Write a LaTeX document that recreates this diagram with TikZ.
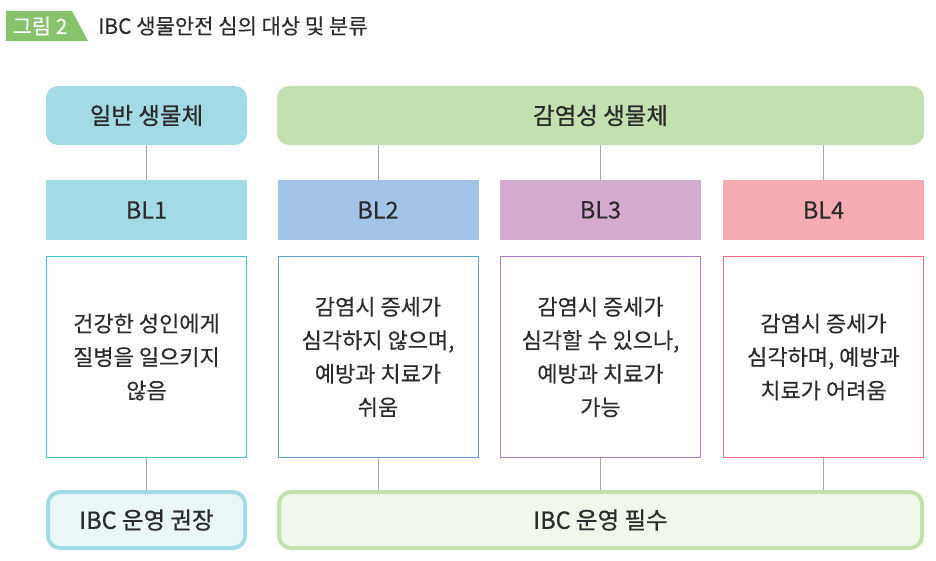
\documentclass[tikz,border=0pt]{standalone}
\usepackage{fontspec}
\usepackage{xcolor}
\setmainfont{Noto Sans CJK KR}
\newfontfamily\headfont[FakeBold=0.7]{Noto Sans CJK KR}
\newfontfamily\bodyfont[FakeBold=0.25]{Noto Sans CJK KR}

\definecolor{tagC}{HTML}{85C46A}
\definecolor{inkC}{HTML}{2B2B2B}
\definecolor{linkC}{HTML}{A8A8A8}
\definecolor{generalC}{HTML}{A3DBE5}
\definecolor{infectC}{HTML}{C5E0B0}
\definecolor{bltwoC}{HTML}{A2C4E8}
\definecolor{blthreeC}{HTML}{D4ABCF}
\definecolor{blfourC}{HTML}{F6AAB2}
\definecolor{edgeoneC}{HTML}{3EC3D5}
\definecolor{edgetwoC}{HTML}{5D9EDD}
\definecolor{edgethreeC}{HTML}{B07DC5}
\definecolor{edgefourC}{HTML}{F26A80}
\definecolor{recC}{HTML}{EBF6F9}
\definecolor{reqC}{HTML}{F0F7EB}

\begin{document}
\begin{tikzpicture}[x=1pt,y=-1pt,
	head/.style={rounded corners=12pt, minimum height=59pt, inner sep=0pt, text=inkC, font=\headfont\fontsize{23.5}{27}\selectfont},
	level/.style={minimum width=201pt, minimum height=60pt, inner sep=0pt, text=inkC, font=\bodyfont\fontsize{23.5}{27}\selectfont},
	desc/.style={draw, fill=white, line width=1pt, minimum width=200pt, minimum height=201pt, inner sep=0pt, align=center, text=inkC, font=\bodyfont\fontsize{22}{33.5}\selectfont},
	ibc/.style={rounded corners=12pt, line width=4pt, minimum height=56pt, inner sep=0pt, text=inkC, font=\headfont\fontsize{23.5}{27}\selectfont},
	link/.style={draw=linkC, line width=1pt}]
	\useasboundingbox (0,0) rectangle (936,561);

	% title
	\fill[tagC] (6,11) -- (72,11) -- (88,41) -- (6,41) -- cycle;
	\node[text=white, font=\bodyfont\fontsize{21}{24}\selectfont] (tag) at (40,26) {그림 2};
	\node[anchor=west, inner sep=0pt, text=inkC, font=\bodyfont\fontsize{21}{24}\selectfont] (title) at (98,26) {IBC 생물안전 심의 대상 및 분류};

	% top groups
	\node[head, fill=generalC, minimum width=201pt] (general) at (146.5,115.5) {일반 생물체};
	\node[head, fill=infectC, minimum width=647pt] (infect) at (600.5,115.5) {감염성 생물체};

	% levels
	\node[level, fill=generalC] (blone) at (146.5,210) {BL1};
	\node[level, fill=bltwoC] (bltwo) at (378,210) {BL2};
	\node[level, fill=blthreeC] (blthree) at (600.5,210) {BL3};
	\node[level, fill=blfourC] (blfour) at (823.5,210) {BL4};

	% descriptions
	\node[desc, draw=edgeoneC] (descone) at (146.5,357) {건강한 성인에게\\질병을 일으키지\\않음};
	\node[desc, draw=edgetwoC] (desctwo) at (378,357) {감염시 증세가\\심각하지 않으며,\\예방과 치료가\\쉬움};
	\node[desc, draw=edgethreeC] (descthree) at (600.5,357) {감염시 증세가\\심각할 수 있으나,\\예방과 치료가\\가능};
	\node[desc, draw=edgefourC] (descfour) at (823.5,357) {감염시 증세가\\심각하며, 예방과\\치료가 어려움};

	% IBC
	\node[ibc, draw=generalC, fill=recC, minimum width=197pt] (ibcrec) at (146.5,520) {IBC 운영 권장};
	\node[ibc, draw=infectC, fill=reqC, minimum width=643pt] (ibcreq) at (600.5,520) {IBC 운영 필수};

	% connectors
	\draw[link] (general) -- (blone);
	\draw[link] (bltwo.north |- infect.south) -- (bltwo);
	\draw[link] (blthree.north |- infect.south) -- (blthree);
	\draw[link] (blfour.north |- infect.south) -- (blfour);

	\draw[link] (descone) -- (ibcrec);
	\draw[link] (desctwo.south) -- (desctwo.south |- ibcreq.north);
	\draw[link] (descthree.south) -- (descthree.south |- ibcreq.north);
	\draw[link] (descfour.south) -- (descfour.south |- ibcreq.north);

\end{tikzpicture}
\end{document}
